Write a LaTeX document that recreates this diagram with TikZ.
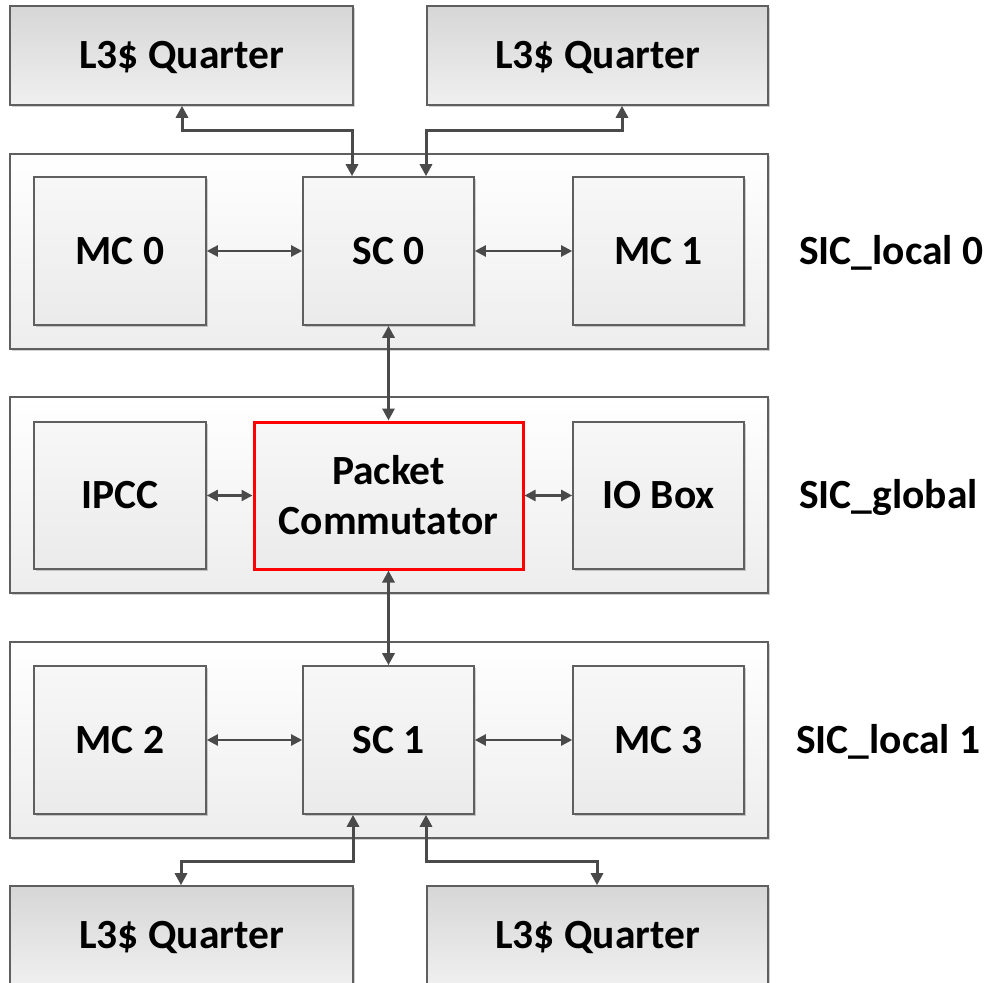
\documentclass[tikz,border=0pt]{standalone}
\usepackage{fontspec}
\setmainfont{Carlito}
\usetikzlibrary{arrows.meta,shadows}
\definecolor{edge}{HTML}{5F5F5F}
\definecolor{arr}{HTML}{4A4A4A}
\tikzset{
  every node/.style={font=\fontsize{41.5}{50}\selectfont\bfseries, inner sep=0pt},
  shadowed/.style={drop shadow={shadow xshift=2pt,shadow yshift=-2pt,opacity=0.18,fill=black}},
  outerbox/.style={draw=edge, line width=1.6pt, top color=white, bottom color=black!7, shadowed},
  innerbox/.style={draw=edge, line width=1.6pt, top color=black!3, bottom color=black!8,
    text height=26.7pt, text depth=0pt, shadowed},
  l3box/.style={draw=edge, line width=1.6pt, top color=black!16, bottom color=black!6,
    text height=26.7pt, text depth=0pt, shadowed},
  pcbox/.style={draw=red, line width=3pt, top color=black!3, bottom color=black!8, align=center},
  sidelabel/.style={anchor=west, text height=26.7pt, text depth=0pt},
  biarrow/.style={draw=arr, line width=3pt, {Triangle[length=12pt,width=12pt]}-{Triangle[length=12pt,width=12pt]}},
  hbiarrow/.style={draw=arr, line width=2.3pt, {Triangle[length=11pt,width=11pt]}-{Triangle[length=11pt,width=11pt]}},
}
\begin{document}
\begin{tikzpicture}[x=1pt,y=-1pt]
\useasboundingbox (0,0) rectangle (986,983);
\clip (0,0) rectangle (986,983);
% L3 caches
\node[l3box, minimum width=343pt, minimum height=99pt] (l3a) at (181.5,55.5) {L3\$ Quarter};
\node[l3box, minimum width=341pt, minimum height=99pt] (l3b) at (597.5,55.5) {L3\$ Quarter};
\node[l3box, minimum width=343pt, minimum height=99pt] (l3c) at (181.5,935.5) {L3\$ Quarter};
\node[l3box, minimum width=341pt, minimum height=99pt] (l3d) at (597.5,935.5) {L3\$ Quarter};
% outer groups
\node[outerbox, minimum width=758pt, minimum height=195pt] (loc0) at (389,251.5) {};
\node[outerbox, minimum width=758pt, minimum height=196pt] (glob) at (389,495) {};
\node[outerbox, minimum width=758pt, minimum height=196pt] (loc1) at (389,740) {};
% SIC_local 0
\node[innerbox, minimum width=172pt, minimum height=148pt] (mc0) at (120,251) {MC 0};
\node[innerbox, minimum width=171pt, minimum height=148pt] (sc0) at (388.5,251) {SC 0};
\node[innerbox, minimum width=171pt, minimum height=148pt] (mc1) at (658.5,251) {MC 1};
% SIC_global
\node[innerbox, minimum width=172pt, minimum height=147pt] (ipcc) at (120,495.5) {IPCC};
\node[pcbox, minimum width=269pt, minimum height=147pt] (pc) at (388.5,495.5) {Packet\\Commutator};
\node[innerbox, minimum width=171pt, minimum height=147pt] (iob) at (658.5,495.5) {IO Box};
% SIC_local 1
\node[innerbox, minimum width=172pt, minimum height=148pt] (mc2) at (120,740) {MC 2};
\node[innerbox, minimum width=171pt, minimum height=148pt] (sc1) at (388.5,740) {SC 1};
\node[innerbox, minimum width=171pt, minimum height=148pt] (mc3) at (658.5,740) {MC 3};
% side labels
\node[sidelabel] (lab0) at (799,251) {SIC\_local 0};
\node[sidelabel] (labg) at (799,495) {SIC\_global};
\node[sidelabel] (lab1) at (796,740) {SIC\_local 1};
% horizontal connectors
\draw[hbiarrow] (mc0) -- (sc0);
\draw[hbiarrow] (sc0) -- (mc1);
\draw[hbiarrow] (ipcc) -- (pc);
\draw[hbiarrow] (pc) -- (iob);
\draw[hbiarrow] (mc2) -- (sc1);
\draw[hbiarrow] (sc1) -- (mc3);
% vertical connectors
\draw[biarrow] (sc0.south -| pc.north) -- (pc.north);
\draw[biarrow] (pc.south) -- (sc1.north -| pc.south);
% cache connectors
\coordinate (ta) at (352,130.5);
\coordinate (tb) at (182,130.5);
\coordinate (tc) at (426,130.5);
\coordinate (td) at (622,130.5);
\coordinate (ba) at (353,861);
\coordinate (bb) at (181,861);
\coordinate (bc) at (426,861);
\coordinate (bd) at (597,861);
\draw[biarrow] (ta |- sc0.north) -- (ta) -- (tb) -- (tb |- l3a.south);
\draw[biarrow] (tc |- sc0.north) -- (tc) -- (td) -- (td |- l3b.south);
\draw[biarrow] (ba |- sc1.south) -- (ba) -- (bb) -- (bb |- l3c.north);
\draw[biarrow] (bc |- sc1.south) -- (bc) -- (bd) -- (bd |- l3d.north);
\end{tikzpicture}
\end{document}
